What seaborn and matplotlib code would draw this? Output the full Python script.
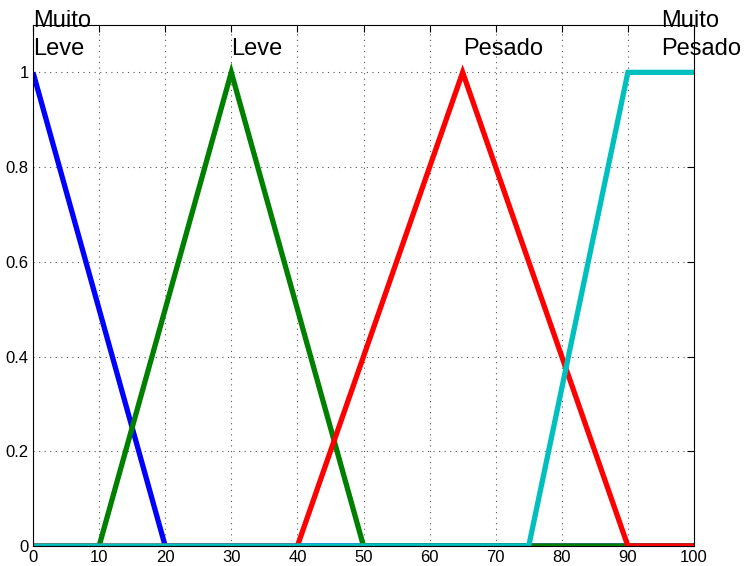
import matplotlib
matplotlib.use("Agg")
import matplotlib.pyplot as plt
import seaborn as sns
import pandas as pd

# Data
muito_leve_x = [0, 20, 100]
muito_leve_y = [1, 0, 0]
leve_x = [0, 10, 30, 50, 100]
leve_y = [0, 0, 1, 0, 0]
pesado_x = [0, 40, 65, 90, 100]
pesado_y = [0, 0, 1, 0, 0]
muito_pesado_x = [0, 75, 90, 100]
muito_pesado_y = [0, 0, 1, 1]
x_ticks = [0, 10, 20, 30, 40, 50, 60, 70, 80, 90, 100]
y_ticks = [0, 0.2, 0.4, 0.6, 0.8, 1]
y_tick_labels = ["0", "0.2", "0.4", "0.6", "0.8", "1"]
labels = ["Muito\nLeve", "Leve", "Pesado", "Muito\nPesado"]
label_x = [0, 30, 65, 95]

sns.set_style("white")
plt.rcParams['font.family'] = ['Liberation Sans', 'DejaVu Sans']

fig = plt.figure(figsize=(7.44, 5.66), dpi=100)
ax = fig.add_axes([33/744, 20/566, (694-33)/744, (546-25)/566])

series = [
    (muito_leve_x, muito_leve_y, (0, 0, 1)),
    (leve_x, leve_y, (0, 0.5, 0)),
    (pesado_x, pesado_y, (1, 0, 0)),
    (muito_pesado_x, muito_pesado_y, (0, 0.75, 0.75)),
]
for xs, ys, c in series:
    df = pd.DataFrame({"x": xs, "y": ys})
    sns.lineplot(data=df, x="x", y="y", ax=ax, color=c, linewidth=3.8,
                 sort=False, estimator=None, solid_joinstyle='miter',
                 solid_capstyle='butt')

ax.set_xlim(0, 100)
ax.set_ylim(0, 1.1)
ax.set_xticks(x_ticks)
ax.set_xticklabels([str(v) for v in x_ticks])
ax.set_yticks(y_ticks)
ax.set_yticklabels(y_tick_labels)
ax.set_xlabel("")
ax.set_ylabel("")
ax.grid(True, linestyle=(0, (1, 4)), color='#555555', linewidth=0.8)
ax.tick_params(direction='in', length=5, top=True, right=True,
               labelsize=12, pad=3, colors='black', labelcolor='black')
for s in ax.spines.values():
    s.set_color('black')
    s.set_linewidth(0.8)

for lx, lab in zip(label_x, labels):
    ax.text(lx, 1.036, lab, fontsize=17, ha='left', va='baseline',
            linespacing=1.4, color='black', clip_on=False)

fig.savefig("out.png", dpi=100)
